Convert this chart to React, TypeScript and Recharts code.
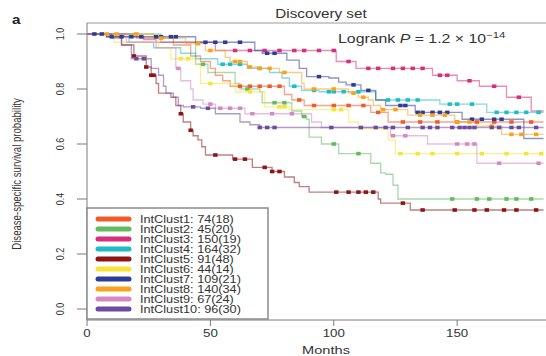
import React from "react";
import { ComposedChart, Line, Scatter, XAxis, YAxis, ReferenceLine } from "recharts";

type Pt = [number, number];

const FONT = "'Liberation Sans', Arial, Helvetica, sans-serif";
const STRETCH = 1.27; // the source figure is drawn wider than tall
const END_MONTH = 185;

const clusterNames = [
  "IntClust1", "IntClust2", "IntClust3", "IntClust4", "IntClust5",
  "IntClust6", "IntClust7", "IntClust8", "IntClust9", "IntClust10",
];
const clusterCounts = [
  "74(18)", "45(20)", "150(19)", "164(32)", "91(48)",
  "44(14)", "109(21)", "140(34)", "67(24)", "96(30)",
];
const clusterColors = [
  "#f15a29", "#62bb5e", "#d5317b", "#1fbcc6", "#8c1515",
  "#f7e437", "#2d3c96", "#faa21b", "#d38ac3", "#6b4aa0",
];

// [months, survival] at each drop
const ic1: Pt[] = [[0, 1], [20, 0.985], [35, 0.96], [42, 0.92], [46, 0.9], [50, 0.875], [52, 0.85], [55, 0.83], [58, 0.81], [80, 0.78], [83, 0.76], [88, 0.74], [115, 0.715], [122, 0.68]];
const ic2: Pt[] = [[0, 1], [30, 0.97], [44, 0.89], [49, 0.86], [60, 0.82], [62, 0.8], [70, 0.79], [71, 0.75], [83, 0.72], [87, 0.7], [89, 0.69], [90, 0.625], [95, 0.6], [102, 0.565], [115, 0.53], [119, 0.495], [121, 0.49], [124, 0.45], [126, 0.4]];
const ic3: Pt[] = [[0, 1], [15, 0.99], [23, 0.98], [28, 0.97], [52, 0.94], [101, 0.9], [109, 0.875], [140, 0.85], [150, 0.83], [159, 0.81], [170, 0.77], [180, 0.72]];
const ic4: Pt[] = [[0, 1], [17, 0.97], [27, 0.95], [38, 0.93], [44, 0.91], [53, 0.89], [65, 0.875], [74, 0.86], [79, 0.84], [82, 0.81], [87, 0.795], [94, 0.79], [117, 0.76], [143, 0.745], [162, 0.715]];
const ic5: Pt[] = [[0, 1], [8, 0.99], [14, 0.96], [19, 0.92], [24, 0.88], [26, 0.85], [28, 0.82], [29, 0.785], [34, 0.77], [36, 0.74], [38, 0.71], [39, 0.68], [42, 0.65], [43, 0.63], [45, 0.615], [46.5, 0.59], [48, 0.56], [59, 0.545], [67, 0.515], [75, 0.5], [80, 0.48], [84, 0.46], [86, 0.445], [90, 0.425], [118, 0.4], [119, 0.385], [131, 0.36]];
const ic6: Pt[] = [[0, 1], [11, 0.97], [29, 0.95], [34, 0.91], [44, 0.89], [46, 0.82], [60, 0.79], [72, 0.735], [82, 0.725], [106, 0.68], [110, 0.655], [122, 0.615], [125, 0.565]];
const ic7: Pt[] = [[0, 1], [8, 0.99], [44, 0.97], [68, 0.94], [71, 0.93], [81, 0.905], [86, 0.875], [89, 0.845], [98, 0.84], [102, 0.825], [105, 0.815], [111, 0.795], [117, 0.76], [121, 0.74], [133, 0.715], [152, 0.69], [177, 0.62]];
const ic8: Pt[] = [[0, 1], [27, 0.985], [40, 0.965], [48, 0.94], [56, 0.915], [58, 0.9], [65, 0.88], [69, 0.875], [78, 0.86], [87, 0.82], [88, 0.8], [106, 0.785], [110, 0.77], [114, 0.76], [116, 0.74], [119, 0.725], [130, 0.705], [149, 0.68], [158, 0.665], [168, 0.635]];
const ic9: Pt[] = [[0, 1], [16, 0.97], [28, 0.95], [36, 0.875], [38, 0.83], [42, 0.8], [43, 0.76], [47, 0.745], [52, 0.73], [64, 0.71], [91, 0.68], [95, 0.66], [123, 0.63], [138, 0.6], [158, 0.53]];
const ic10: Pt[] = [[0, 1], [10, 0.985], [14, 0.96], [18, 0.91], [26, 0.875], [29, 0.85], [31, 0.81], [32, 0.785], [35, 0.77], [37, 0.74], [39, 0.735], [46, 0.73], [52, 0.71], [62, 0.68], [66, 0.67], [70, 0.66]];

// censoring times (months)
const cens1 = [62, 66, 70, 74, 78, 86, 92, 100, 106, 112, 118, 128, 135, 142, 150, 158, 165, 172, 180];
const cens2 = [47, 65, 76, 80, 88, 100, 110, 148, 158, 163, 170, 174, 180];
const cens3 = [60, 66, 72, 78, 84, 88, 94, 100, 106, 114, 118, 124, 128, 132, 136, 143, 146, 155, 165, 175];
const cens4 = [55, 58, 62, 70, 84, 92, 98, 100, 104, 110, 122, 126, 130, 134, 147, 150, 156, 166, 170, 174, 178, 183];
const cens5 = [19, 24, 26, 27, 38, 42, 52, 60, 64, 72, 75, 78, 101, 106, 110, 113, 116, 128, 136, 149, 157, 162, 169, 174, 182];
const cens6 = [38, 41, 50, 66, 78, 80, 100, 103, 127, 134, 140, 150, 160, 170, 178, 184];
const cens7 = [3, 6, 10, 14, 18, 22, 28, 30, 34, 36, 48, 52, 56, 62, 73, 76, 94, 108, 114, 127, 129, 134, 136, 140, 143, 146, 156, 160, 165, 168];
const cens8 = [8, 12, 20, 30, 45, 50, 60, 62, 66, 70, 74, 80, 92, 100, 108, 112, 120, 125, 135, 140, 145, 150, 155, 164, 172, 176, 182];
const cens9 = [37, 50, 54, 58, 62, 67, 75, 83, 124, 129, 150, 154, 157, 167, 183];
const cens10 = [20, 23, 43, 49, 70, 73, 76, 99, 111, 117, 121, 124, 130, 136, 139, 142, 148, 151, 153, 155, 157, 164, 167, 172, 175, 182];

const xTicks = [0, 50, 100, 150];
const yTicks = [0, 0.2, 0.4, 0.6, 0.8, 1.0];

const curves = [ic1, ic2, ic3, ic4, ic5, ic6, ic7, ic8, ic9, ic10];
const censors = [cens1, cens2, cens3, cens4, cens5, cens6, cens7, cens8, cens9, cens10];

const stepAt = (curve: Pt[], t: number) => {
  let v = curve[0][1];
  for (const [m, s] of curve) if (m <= t) v = s;
  return v;
};

const lineData = curves.map((c) => [
  ...c.map(([t, s]) => ({ t, s })),
  { t: END_MONTH, s: c[c.length - 1][1] },
]);
const censorData = curves.map((c, i) => censors[i].map((t) => ({ t, s: stepAt(c, t) })));

const square = (color: string) => (props: any) => (
  <rect x={props.cx - 2.2} y={props.cy - 1.8} width={4.4} height={3.6} fill={color} />
);

const YTick = (props: any) => {
  const { y, payload } = props;
  return (
    <g transform={`translate(63.5, ${y}) scale(${STRETCH},1) rotate(-90)`}>
      <text x={0} y={0} textAnchor="middle" fontSize={9} fill="#333" fontFamily={FONT}>
        {payload.value.toFixed(1)}
      </text>
    </g>
  );
};

const XTick = (props: any) => {
  const { x, payload } = props;
  return (
    <g transform={`translate(${x}, 337) scale(${STRETCH},1)`}>
      <text x={0} y={0} textAnchor="middle" fontSize={10.5} fill="#333" fontFamily={FONT}>
        {payload.value}
      </text>
    </g>
  );
};

export default function App() {
  return (
    <div style={{ position: "absolute", left: 0, top: 0, width: 546, height: 356, background: "#fff" }}>
      <ComposedChart width={546} height={356} margin={{ top: 23, right: 0, bottom: 0, left: 0 }}>
        <XAxis
          type="number"
          dataKey="t"
          domain={[0, 186]}
          ticks={xTicks}
          allowDataOverflow
          height={36}
          tickSize={6}
          stroke="#7a7a7a"
          tick={<XTick />}
        />
        <YAxis
          type="number"
          domain={[-0.04, 1.04]}
          ticks={yTicks}
          allowDataOverflow
          width={87}
          tickSize={10}
          stroke="#7a7a7a"
          tick={<YTick />}
        />
        <ReferenceLine y={1.04} stroke="#9a9a9a" strokeWidth={1.2} />
        {lineData.map((d, i) => (
          <Line
            key={`l${i}`}
            data={d}
            dataKey="s"
            type="stepAfter"
            stroke={clusterColors[i]}
            strokeOpacity={0.55}
            strokeWidth={1.3}
            dot={false}
            activeDot={false}
            isAnimationActive={false}
          />
        ))}
        {censorData.map((d, i) => (
          <Scatter
            key={`c${i}`}
            data={d}
            dataKey="s"
            fill={clusterColors[i]}
            shape={square(clusterColors[i])}
            isAnimationActive={false}
          />
        ))}
      </ComposedChart>
      <svg
        width={546}
        height={356}
        style={{ position: "absolute", left: 0, top: 0, pointerEvents: "none" }}
        fontFamily={FONT}
      >
        <g transform={`translate(12, 24) scale(${STRETCH},1)`}>
          <text fontSize={12} fontWeight="bold" fill="#222">a</text>
        </g>
        <g transform={`translate(321, 18) scale(${STRETCH},1)`}>
          <text fontSize={12} textAnchor="middle" fill="#333">Discovery set</text>
        </g>
        <g transform={`translate(338, 43) scale(${STRETCH},1)`}>
          <text fontSize={12.5} fill="#333">
            Logrank <tspan fontStyle="italic">P</tspan> = 1.2 × 10
            <tspan fontSize={9} dy={-5}>−14</tspan>
          </text>
        </g>
        <g transform={`translate(21, 174) scale(${STRETCH},1) rotate(-90)`}>
          <text fontSize={9.6} textAnchor="middle" fill="#333">
            Disease-specific survival probability
          </text>
        </g>
        <g transform={`translate(326, 354) scale(${STRETCH},1)`}>
          <text fontSize={11.5} textAnchor="middle" fill="#333">Months</text>
        </g>
        <rect x={87} y={208} width={181} height={111} fill="#fff" stroke="#8a8a8a" strokeWidth={1.5} />
        {clusterNames.map((n, i) => {
          const cy = 219 + i * 10;
          return (
            <g key={n}>
              <line x1={98} x2={129} y1={cy} y2={cy} stroke={clusterColors[i]} strokeWidth={5} strokeLinecap="round" />
              <g transform={`translate(140, ${cy + 3.6}) scale(${STRETCH},1)`}>
                <text fontSize={10} fill="#333">{`${n}: ${clusterCounts[i]}`}</text>
              </g>
            </g>
          );
        })}
      </svg>
    </div>
  );
}
